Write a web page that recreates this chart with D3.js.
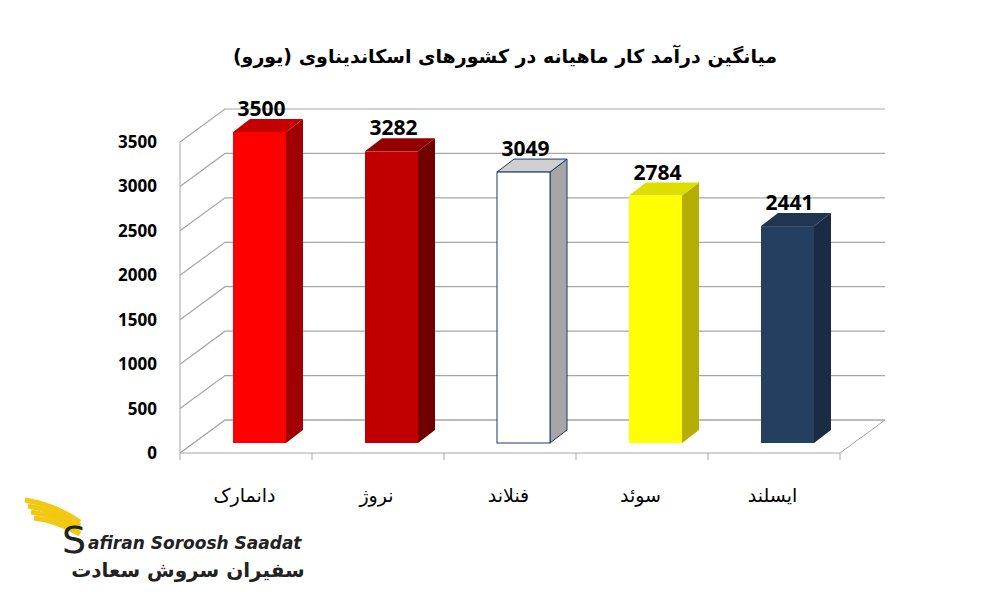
<!DOCTYPE html>
<html><head><meta charset="utf-8"><script src="https://cdn.jsdelivr.net/npm/d3@7/dist/d3.min.js"></script>
<style>body{margin:0;background:#fff}</style></head><body><svg id="c" width="1000" height="600"></svg>
<script>
const categories = ["دانمارک","نروژ","فنلاند","سوئد","ایسلند"];
const values = [3500,3282,3049,2784,2441];
const ticks = [0,500,1000,1500,2000,2500,3000,3500];
const title = "میانگین درآمد کار ماهیانه در کشورهای اسکاندیناوی (یورو)";
const faces = [
 {front:"#ff0000",side:"#a00000",top:"#c40000",stroke:"none"},
 {front:"#c00000",side:"#700000",top:"#920000",stroke:"none"},
 {front:"#ffffff",side:"#a6a6a6",top:"#d0d0d0",stroke:"#1f3864"},
 {front:"#ffff00",side:"#b5ad00",top:"#dddd00",stroke:"none"},
 {front:"#243f60",side:"#1a2c44",top:"#1f3552",stroke:"none"}];
const svg=d3.select("#c");
const DX=45,DY=-33;
const yAx=d3.scaleLinear().domain([0,3500]).range([453,142]);
const x=d3.scaleBand().domain(categories).range([180,840]);
const g=svg.append("g");
g.append("path").attr("d",`M180,453L${180+DX},${453+DY}L${840+DX},${453+DY}L840,453`).attr("fill","none").attr("stroke","#a6a6a6");
ticks.forEach(t=>{const y=yAx(t);
 g.append("path").attr("d",`M180,${y}L${180+DX},${y+DY}L${840+DX},${y+DY}`).attr("fill","none").attr("stroke","#a6a6a6").attr("stroke-width",1.2);
 g.append("text").attr("x",157).attr("y",y+6).attr("text-anchor","end").attr("font-family","Open Sans, Liberation Sans").attr("font-weight","bold").attr("font-size",17).text(t);
});
g.append("line").attr("x1",180).attr("x2",180).attr("y1",yAx(0)).attr("y2",yAx(3500)).attr("stroke","#a6a6a6");
g.append("line").attr("x1",180).attr("x2",840).attr("y1",453).attr("y2",453).attr("stroke","#a6a6a6");
[...categories.map(c=>x(c)),840].forEach(px=>g.append("line").attr("x1",px).attr("x2",px).attr("y1",453).attr("y2",460).attr("stroke","#a6a6a6"));
const by=d3.scaleLinear().domain([0,3500]).range([443,132]);
const bw=53,sd=17,sh=-13;
categories.forEach((c,i)=>{
 const cx=x(c)+x.bandwidth()/2+13.5, x0=cx-bw/2, x1=cx+bw/2, yt=by(values[i]), yb=by(0), f=faces[i];
 g.append("path").attr("d",`M${x1},${yb}L${x1+sd},${yb+sh}L${x1+sd},${yt+sh}L${x1},${yt}Z`).attr("fill",f.side).attr("stroke",f.stroke);
 g.append("path").attr("d",`M${x0},${yt}L${x0+sd},${yt+sh}L${x1+sd},${yt+sh}L${x1},${yt}Z`).attr("fill",f.top).attr("stroke",f.stroke);
 g.append("rect").attr("x",x0).attr("y",yt).attr("width",bw).attr("height",yb-yt).attr("fill",f.front).attr("stroke",f.stroke);
 g.append("text").attr("x",cx+2).attr("y",yt+sh-3).attr("text-anchor","middle").attr("font-family","Open Sans, Liberation Sans").attr("font-weight","bold").attr("font-size",21).text(values[i]);
 g.append("text").attr("x",cx-15).attr("y",502).attr("text-anchor","middle").attr("font-family","DejaVu Sans").attr("font-size",19).text(c);
});
svg.append("text").attr("x",505).attr("y",63).attr("text-anchor","middle").attr("font-family","DejaVu Sans").attr("font-weight","bold").attr("font-size",19).text(title);
const L=svg.append("g");
[0,1,2,3].forEach(k=>L.append("path").attr("d",`M${25+k*3},${500+k*6}Q${55},${505+k*5} ${80},${522+k*4}`).attr("fill","none").attr("stroke","#f2c811").attr("stroke-width",5));
L.append("text").attr("x",62).attr("y",553).attr("font-family","DejaVu Sans").attr("font-size",38).attr("fill","#222").text("S");
L.append("text").attr("x",88).attr("y",549).attr("font-family","DejaVu Sans").attr("font-weight","bold").attr("font-style","italic").attr("font-size",17).attr("fill","#222").text("afiran Soroosh Saadat");
L.append("text").attr("x",188).attr("y",577).attr("text-anchor","middle").attr("font-family","DejaVu Sans").attr("font-weight","bold").attr("font-size",20).attr("fill","#222").text("سفیران سروش سعادت");
</script></body></html>
